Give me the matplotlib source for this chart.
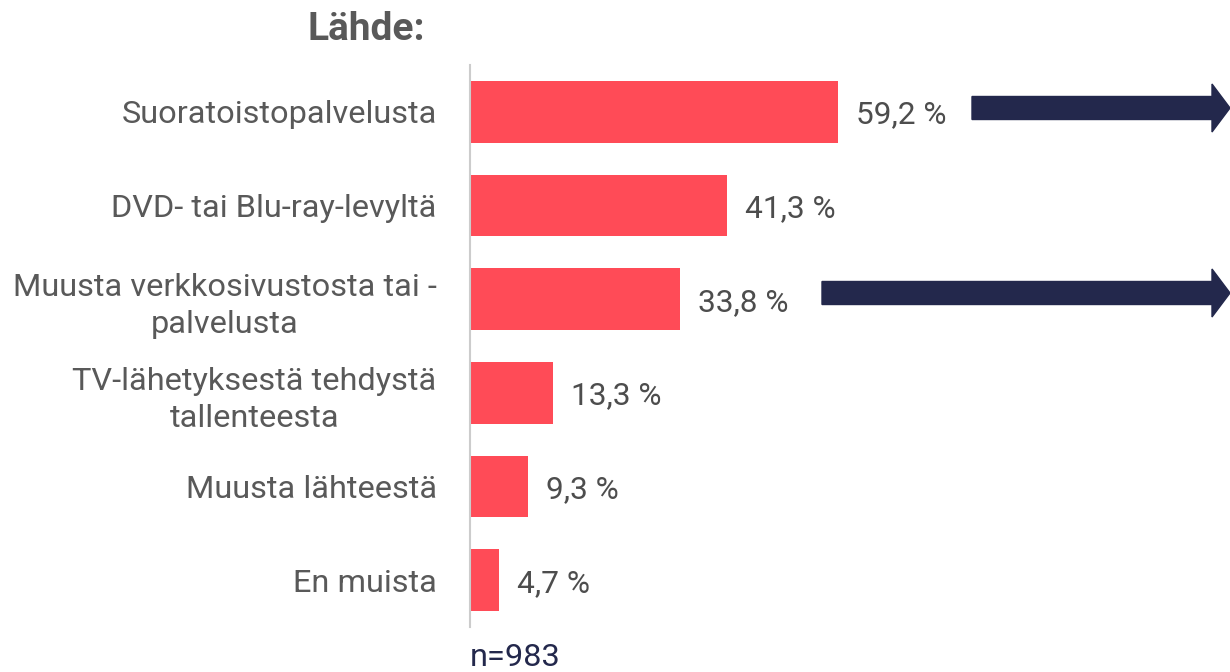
import matplotlib
matplotlib.use("Agg")
from matplotlib import pyplot as plt
from matplotlib.patches import Polygon

plt.rcParams["font.family"] = ["Roboto", "DejaVu Sans"]

# data
categories = [
    "Suoratoistopalvelusta",
    "DVD- tai Blu-ray-levyltä",
    "Muusta verkkosivustosta tai -\npalvelusta",
    "TV-lähetyksestä tehdystä\ntallenteesta",
    "Muusta lähteestä",
    "En muista",
]
values = [59.2, 41.3, 33.8, 13.3, 9.3, 4.7]
value_labels = ["59,2 %", "41,3 %", "33,8 %", "13,3 %", "9,3 %", "4,7 %"]
title_text = "Lähde:"
n_text = "n=983"

BAR_COLOR = "#FF4B57"
NAVY = "#23284C"
GREY_TEXT = "#595959"

fig = plt.figure(figsize=(12.3, 6.72), dpi=100)
ax = fig.add_axes([470 / 1230, 45 / 672, 760 / 1230, 562 / 672])

ypos = list(range(len(categories)))
ax.barh(ypos, values, height=0.66, color=BAR_COLOR)
ax.set_xlim(0, 760 / 6.216)
ax.set_ylim(len(categories) - 0.5, -0.5)

ax.set_yticks(ypos)
ax.set_yticklabels(categories, multialignment="center", fontsize=23.4,
                   color=GREY_TEXT, linespacing=1.35)
ax.tick_params(axis="y", length=0, pad=24)
ax.set_xticks([])

for s in ["top", "right", "bottom"]:
    ax.spines[s].set_visible(False)
ax.spines["left"].set_color("#CCCCCC")
ax.spines["left"].set_linewidth(1.5)

for y, v, lab in zip(ypos, values, value_labels):
    ax.annotate(lab, (v, y), xytext=(13, 0), textcoords="offset points",
                ha="left", va="center_baseline", fontsize=22.8, color="#4D4D4D")

fig.text(308 / 1230, 1 - 30 / 672, title_text, fontsize=28, fontweight="bold",
         color=GREY_TEXT, ha="left", va="center")
fig.text(470 / 1230, 1 - 657 / 672, n_text, fontsize=23.4, color=NAVY,
         ha="left", va="center")


# navy arrows on the right (pixel coords from top-left)
def add_arrow(x0, x1, yc, shaft=23, head=48, head_len=18):
    pts = [
        (x0, yc - shaft / 2), (x1 - head_len, yc - shaft / 2),
        (x1 - head_len, yc - head / 2), (x1, yc),
        (x1 - head_len, yc + head / 2), (x1 - head_len, yc + shaft / 2),
        (x0, yc + shaft / 2),
    ]
    pts = [(x / 100, (672 - y) / 100) for x, y in pts]
    fig.patches.append(Polygon(pts, closed=True, color=NAVY,
                               transform=fig.dpi_scale_trans))


add_arrow(972, 1230, 108)
add_arrow(822, 1230, 293)

fig.savefig("out.png", dpi=100)
